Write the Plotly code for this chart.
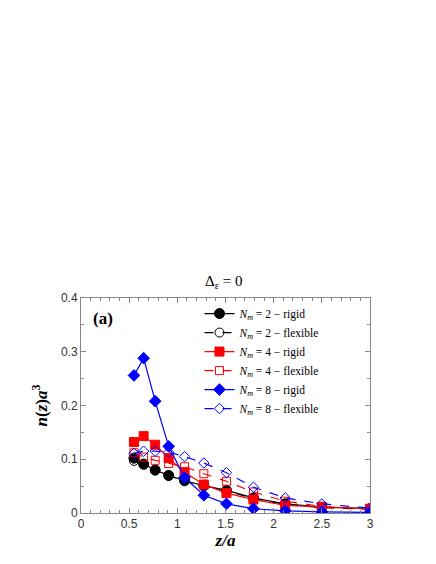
import plotly.graph_objects as go

# z/a positions (shared by all curves)
z = [0.55, 0.65, 0.77, 0.91, 1.075, 1.275, 1.51, 1.79, 2.12, 2.5, 3.0]

n2_rigid = [0.102, 0.091, 0.080, 0.070, 0.060, 0.051, 0.042, 0.028, 0.017, 0.011, 0.008]
n2_flex = [0.097, 0.090, 0.079, 0.069, 0.060, 0.050, 0.041, 0.027, 0.016, 0.010, 0.007]
n4_rigid = [0.132, 0.143, 0.127, 0.102, 0.076, 0.053, 0.037, 0.025, 0.014, 0.011, 0.008]
n4_flex = [0.112, 0.104, 0.098, 0.092, 0.086, 0.073, 0.059, 0.039, 0.022, 0.012, 0.008]
n8_rigid = [0.256, 0.288, 0.208, 0.124, 0.066, 0.033, 0.017, 0.008, 0.004, 0.002, 0.001]
n8_flex = [0.111, 0.115, 0.115, 0.113, 0.105, 0.093, 0.075, 0.048, 0.028, 0.017, 0.009]

labels = ["2 − rigid", "2 − flexible", "4 − rigid", "4 − flexible", "8 − rigid", "8 − flexible"]

series = [
    (n2_rigid, "black", "circle", "solid", 10),
    (n2_flex, "black", "circle-open", "dash", 9),
    (n4_rigid, "red", "square", "solid", 9),
    (n4_flex, "red", "square-open", "dash", 8),
    (n8_rigid, "blue", "diamond", "solid", 9),
    (n8_flex, "blue", "diamond-open", "dash", 8),
]

fig = go.Figure()
for (vals, col, sym, dash, sz), lab in zip(series, labels):
    fig.add_trace(go.Scatter(
        x=z, y=vals, mode="lines+markers",
        name="<i>N</i><sub><i>m</i></sub> = " + lab,
        line=dict(color=col, width=1.2, dash=dash),
        marker=dict(symbol=sym, size=sz, color=col, line=dict(color=col, width=1)),
    ))

axis_common = dict(
    showline=True, linecolor="#888", linewidth=1, mirror="ticks",
    ticks="inside", ticklen=5, tickcolor="#888",
    showgrid=False, zeroline=False,
    tickfont=dict(family="Liberation Sans", size=12, color="#333"),
)

fig.update_xaxes(range=[0, 3], dtick=0.5,
                 minor=dict(ticks="inside", ticklen=3, dtick=0.1, tickcolor="#888"),
                 title=dict(text="<b><i>z/a</i></b>", standoff=2,
                            font=dict(family="Liberation Serif", size=17, color="black")),
                 **axis_common)
fig.update_yaxes(range=[0, 0.4], dtick=0.1, tickformat=".1~f",
                 minor=dict(ticks="inside", ticklen=3, dtick=0.05, tickcolor="#888"),
                 title=dict(text="<b><i>n</i>(<i>z</i>)<i>a</i></b><sup><b>3</b></sup>", standoff=8,
                            font=dict(family="Liberation Serif", size=17, color="black")),
                 **axis_common)

fig.add_annotation(x=0.035, y=0.96, xref="paper", yref="paper", text="<b>(a)</b>",
                   showarrow=False, xanchor="left", yanchor="top",
                   font=dict(family="Liberation Serif", size=17, color="black"))

fig.update_layout(
    width=436, height=564,
    margin=dict(l=73, r=74, t=290, b=59),
    plot_bgcolor="white", paper_bgcolor="white",
    title=dict(text="Δ<sub>ε</sub> = 0", x=0.495, xanchor="center", y=1 - 273 / 564, yanchor="middle",
               font=dict(family="Liberation Serif", size=15, color="black")),
    legend=dict(x=0.41, y=0.995, xanchor="left", yanchor="top", bgcolor="rgba(0,0,0,0)",
                font=dict(family="Liberation Serif", size=11.5, color="black"),
                itemwidth=30, tracegroupgap=0),
    font=dict(family="Liberation Serif"),
)

fig.write_html("out.html")
